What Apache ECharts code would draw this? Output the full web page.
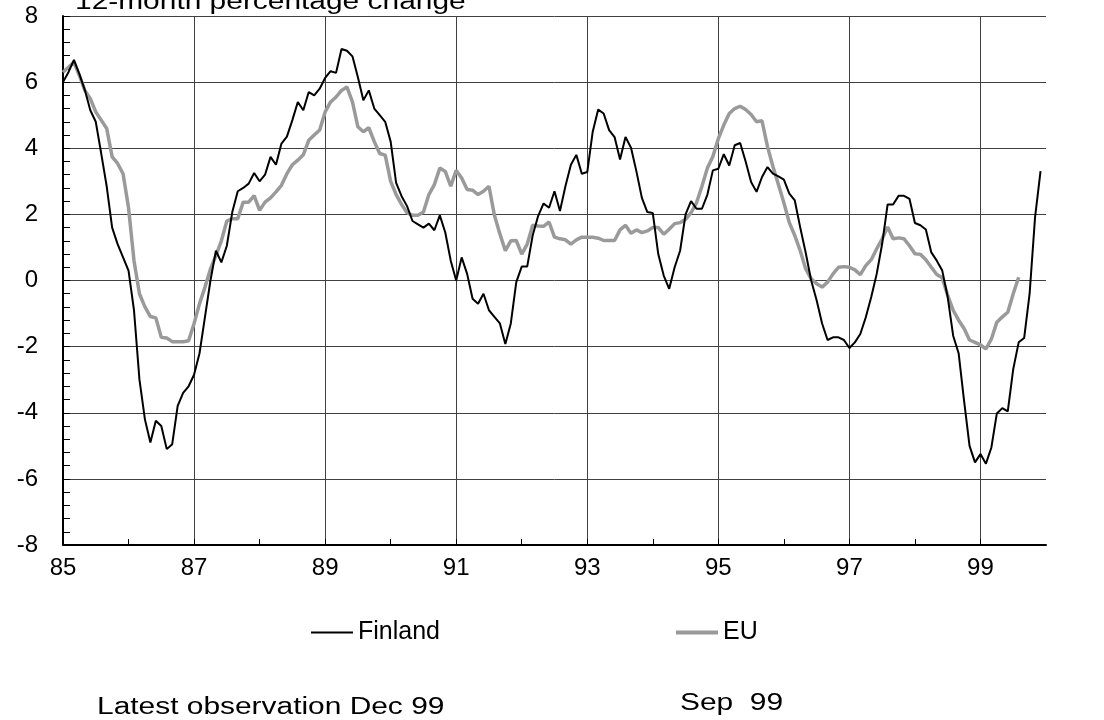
<!DOCTYPE html>
<html>
<head>
<meta charset="utf-8">
<title>Finland vs EU, 12-month percentage change</title>
<script src="https://cdn.jsdelivr.net/npm/echarts@6/dist/echarts.min.js"></script>
<style>
  html, body { margin: 0; padding: 0; background: #fff; }
  #chart { width: 1104px; height: 720px; }
</style>
</head>
<body>
<div id="chart"></div>
<script>
// Monthly series, Jan 85 onwards.
const START_YEAR = 85;

const finland = [
  6.0, 6.3, 6.67, 6.24, 5.76, 5.15, 4.8, 3.84, 2.85, 1.6, 1.1, 0.7,
  0.3, -0.9, -3.0, -4.2, -4.9, -4.24, -4.4, -5.1, -4.95, -3.79, -3.4, -3.2,
  -2.85, -2.2, -1.1, 0.0, 0.9, 0.55, 1.05, 2.07, 2.7, 2.8, 2.93, 3.25,
  3.0, 3.2, 3.74, 3.5, 4.14, 4.35, 4.85, 5.4, 5.15, 5.7, 5.6, 5.8,
  6.13, 6.33, 6.28, 7.0, 6.95, 6.78, 6.15, 5.45, 5.75, 5.2, 5.0, 4.8,
  4.2, 2.95, 2.55, 2.25, 1.8, 1.7, 1.6, 1.72, 1.52, 1.97, 1.45, 0.6,
  0.0, 0.7, 0.2, -0.55, -0.7, -0.4, -0.9, -1.1, -1.3, -1.92, -1.3, -0.05,
  0.42, 0.42, 1.36, 1.95, 2.33, 2.2, 2.7, 2.1, 2.85, 3.5, 3.8, 3.23,
  3.28, 4.5, 5.17, 5.05, 4.55, 4.34, 3.66, 4.34, 4.02, 3.3, 2.5, 2.07,
  2.04, 0.8, 0.15, -0.25, 0.4, 0.9, 2.0, 2.4, 2.17, 2.17, 2.6, 3.33,
  3.38, 3.82, 3.48, 4.09, 4.16, 3.6, 2.98, 2.68, 3.13, 3.43, 3.23, 3.15,
  3.05, 2.63, 2.42, 1.6, 0.84, 0.0, -0.6, -1.3, -1.8, -1.72, -1.72, -1.8,
  -2.04, -1.87, -1.62, -1.11, -0.5, 0.2, 1.11, 2.3, 2.3, 2.56, 2.56, 2.47,
  1.74, 1.67, 1.54, 0.85, 0.6, 0.3, -0.5, -1.67, -2.2, -3.64, -5.0, -5.5,
  -5.25, -5.54, -5.05, -4.02, -3.86, -3.96, -2.68, -1.87, -1.74, -0.4, 1.92, 3.31
];

const eu = [
  6.3, 6.45, 6.6, 6.2, 5.75, 5.5, 5.1, 4.85, 4.6, 3.74, 3.54, 3.23,
  2.2, 0.6, -0.4, -0.8, -1.09, -1.13, -1.72, -1.74, -1.85, -1.85, -1.85, -1.82,
  -1.3, -0.7, -0.2, 0.35, 0.75, 1.2, 1.8, 1.87, 1.87, 2.37, 2.37, 2.57,
  2.12, 2.37, 2.5, 2.68, 2.88, 3.23, 3.5, 3.64, 3.8, 4.24, 4.4, 4.55,
  5.1, 5.4, 5.55, 5.75, 5.85, 5.4, 4.65, 4.5, 4.62, 4.2, 3.84, 3.79,
  3.0, 2.6, 2.3, 2.05, 1.97, 1.97, 2.07, 2.6, 2.9, 3.4, 3.3, 2.85,
  3.33, 3.1, 2.75, 2.73, 2.6, 2.7, 2.85, 1.97, 1.41, 0.9, 1.2, 1.21,
  0.8, 1.1, 1.67, 1.65, 1.64, 1.77, 1.31, 1.26, 1.23, 1.1, 1.23, 1.31,
  1.31, 1.31, 1.28, 1.21, 1.21, 1.21, 1.53, 1.67, 1.43, 1.53, 1.45, 1.5,
  1.6, 1.6, 1.4, 1.55, 1.72, 1.75, 1.85, 2.05, 2.35, 2.85, 3.4, 3.75,
  4.29, 4.7, 5.05, 5.2, 5.27, 5.17, 5.02, 4.8, 4.83, 4.05, 3.45, 2.9,
  2.35, 1.75, 1.36, 0.9, 0.35, 0.05, -0.1, -0.2, -0.05, 0.2, 0.4, 0.42,
  0.4, 0.32, 0.18, 0.45, 0.63, 0.96, 1.26, 1.62, 1.26, 1.29, 1.26, 1.05,
  0.81, 0.79, 0.63, 0.4, 0.18, 0.08, -0.45, -0.9, -1.2, -1.45, -1.8, -1.87,
  -1.95, -2.07, -1.77, -1.26, -1.1, -0.96, -0.4, 0.1
];

const xTickLabels = [85, 87, 89, 91, 93, 95, 97, 99];

const TITLE = '12-month percentage change';
const NOTE_FINLAND = 'Latest observation Dec 99';
const NOTE_EU = 'Sep  99';

const FONT = '"Liberation Sans", Arial, Helvetica, sans-serif';
const FIN_COLOR = '#000';
const EU_COLOR = '#9a9a9a';

// month index -> fractional year on the x axis
function toPoints(values) {
  return values.map((v, i) => [START_YEAR + i / 12, v]);
}

function noteText(x, y, text) {
  return {
    type: 'text',
    x: x,
    y: y,
    scaleX: 1.3,
    silent: true,
    style: {
      text: text,
      font: '23px ' + FONT,
      fill: '#000',
      align: 'left',
      verticalAlign: 'middle'
    }
  };
}

// one legend per series so each can sit where the print put it;
// a thin rect stands in for the plain line sample
function legendAt(left, name, thickness) {
  return {
    left: left,
    top: 620,
    padding: 0,
    icon: 'rect',
    itemWidth: 42,
    itemHeight: thickness,
    itemGap: 0,
    data: [name],
    textStyle: { fontSize: 25, color: '#000', fontFamily: FONT }
  };
}

const chart = echarts.init(document.getElementById('chart'));
chart.setOption({
  animation: false,
  backgroundColor: '#fff',
  textStyle: { fontFamily: FONT },
  grid: { left: 63, right: 58, top: 16, bottom: 175, containLabel: false, outerBoundsMode: 'none' },
  legend: [
    legendAt(311, 'Finland', 2),
    legendAt(676, 'EU', 4)
  ],
  xAxis: {
    type: 'value',
    min: 85,
    max: 100,
    interval: 1,
    axisLine: { onZero: false, lineStyle: { color: '#000', width: 2 } },
    axisTick: { inside: true, length: 6, lineStyle: { color: '#000' } },
    axisLabel: {
      color: '#000',
      fontSize: 24,
      fontFamily: FONT,
      margin: 11,
      showMinLabel: true,
      showMaxLabel: false,
      formatter: (v) => (xTickLabels.includes(v) ? String(v) : '')
    },
    // lines only on the labelled (odd) years
    splitLine: { show: true, lineStyle: { color: ['#404040', 'rgba(0,0,0,0)'], width: 1 } }
  },
  yAxis: {
    type: 'value',
    min: -8,
    max: 8,
    interval: 2,
    axisLine: { show: true, onZero: false, lineStyle: { color: '#000', width: 2 } },
    axisTick: { show: true, inside: true, length: 7, lineStyle: { color: '#000' } },
    minorTick: { show: true, splitNumber: 5, length: 7, lineStyle: { color: '#000' } },
    axisLabel: { color: '#000', fontSize: 24, fontFamily: FONT, margin: 25 },
    splitLine: { show: true, lineStyle: { color: '#404040', width: 1 } }
  },
  series: [
    {
      name: 'EU',
      type: 'line',
      data: toPoints(eu),
      symbol: 'none',
      z: 2,
      lineStyle: { color: EU_COLOR, width: 3.5 },
      itemStyle: { color: EU_COLOR }
    },
    {
      name: 'Finland',
      type: 'line',
      data: toPoints(finland),
      symbol: 'none',
      z: 3,
      lineStyle: { color: FIN_COLOR, width: 2 },
      itemStyle: { color: FIN_COLOR }
    }
  ],
  graphic: [
    noteText(75, 3, TITLE),
    noteText(97, 708, NOTE_FINLAND),
    noteText(680, 704, NOTE_EU)
  ]
});
</script>
</body>
</html>
